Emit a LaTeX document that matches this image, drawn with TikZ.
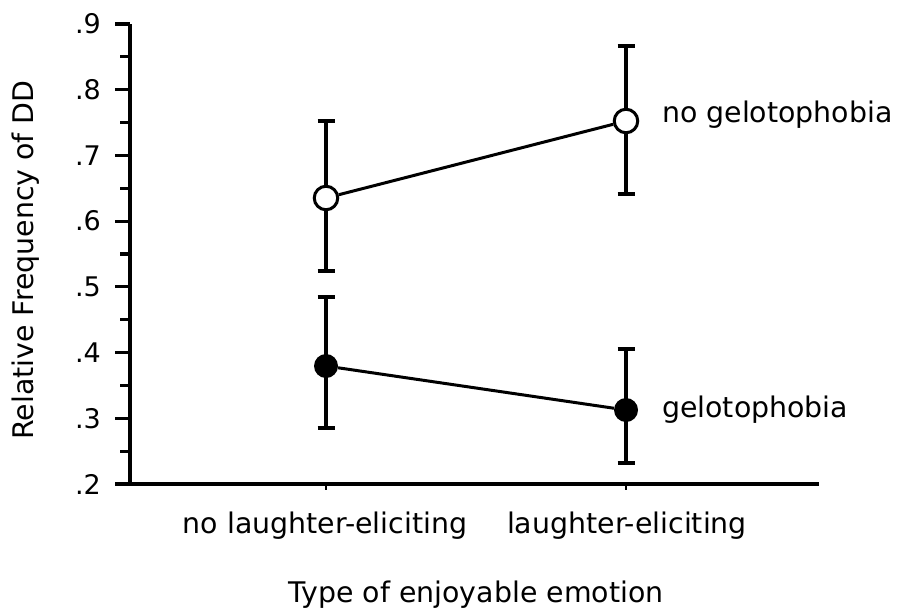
\documentclass[tikz,border=0pt]{standalone}
\usepackage{fontspec}
\setmainfont{DejaVu Sans}
\begin{document}
\begin{tikzpicture}[x=1pt,y=-1pt,
  axisline/.style={line width=3.4pt,line join=miter},
  tickline/.style={line width=3.2pt},
  ebar/.style={line width=3.8pt},
  dline/.style={line width=3pt},
  openpt/.style={circle,draw,line width=3pt,fill=white,minimum size=23.5pt,inner sep=0pt},
  fullpt/.style={circle,fill=black,minimum size=24pt,inner sep=0pt},
  lab/.style={font=\fontsize{28.4}{30}\selectfont,inner sep=0pt},
  ticklab/.style={font=\fontsize{27}{29}\selectfont,inner sep=0pt,anchor=east}
]
\useasboundingbox (0,0) rectangle (901,613);

% axes
\coordinate (otop) at (130,24);
\coordinate (orig) at (130,484);
\coordinate (xend) at (819,484);
\draw[axisline] (otop) -- (orig) -- (xend);

% y ticks and labels
\foreach \k/\t in {0/.2,1/.3,2/.4,3/.5,4/.6,5/.7,6/.8,7/.9}{
  \draw[tickline] (115,{484-\k*65.714}) -- (130,{484-\k*65.714});
  \node[ticklab] (yl\k) at (101,{484-\k*65.714}) {\t};
}
\foreach \k in {0,...,6}{
  \draw[tickline] (120,{484-(\k+0.5)*65.714}) -- (130,{484-(\k+0.5)*65.714});
}

% x ticks
\coordinate (c1) at (326,484);
\coordinate (c2) at (626,484);
\draw[line width=2.4pt] (c1) -- ++(0,6);
\draw[line width=2.4pt] (c2) -- ++(0,6);

% error bars
\foreach \n/\x/\a/\b in {nl/326/121/271, nr/626/46/194, gl/326/297/428, gr/626/349/463}{
  \coordinate (\n-t) at (\x,\a);
  \coordinate (\n-b) at (\x,\b);
  \draw[ebar] (\n-t) -- (\n-b);
  \draw[tickline] ([xshift=-8.5pt]\n-t) -- ([xshift=8.5pt]\n-t);
  \draw[tickline] ([xshift=-8.5pt]\n-b) -- ([xshift=8.5pt]\n-b);
}

% data points
\node[openpt] (nl) at (326,198) {};
\node[openpt] (nr) at (626,121) {};
\node[fullpt] (gl) at (326,366) {};
\node[fullpt] (gr) at (626,410) {};
\draw[dline] (nl) -- (nr);
\draw[dline] (gl) -- (gr);

% labels
\node[lab,anchor=base west] (lng) at (662,122) {no gelotophobia};
\node[lab,anchor=base west] (lg) at (662,417) {gelotophobia};
\node[lab,anchor=base] (lc1) at (325,533) {no laughter-eliciting};
\node[lab,anchor=base] (lc2) at (627,533) {laughter-eliciting};
\node[lab,anchor=base] (xt) at (476,602) {Type of enjoyable emotion};
\node[lab,rotate=90] (yt) at (26,260) {Relative Frequency of DD};
\end{tikzpicture}
\end{document}
